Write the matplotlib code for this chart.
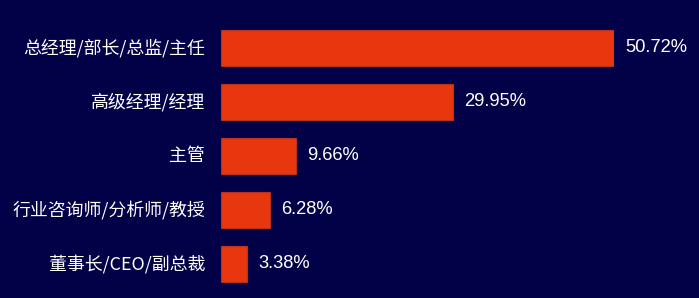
import matplotlib
matplotlib.use('Agg')
import matplotlib.pyplot as plt

plt.rcParams['font.family'] = ['Noto Sans CJK SC', 'DejaVu Sans']

# 数据
categories = ['总经理/部长/总监/主任', '高级经理/经理', '主管', '行业咨询师/分析师/教授', '董事长/CEO/副总裁']
values = [50.72, 29.95, 9.66, 6.28, 3.38]

bg = '#020046'
bar_color = '#E8360F'

fig = plt.figure(figsize=(6.99, 2.98), dpi=100, facecolor=bg)
ax = fig.add_axes([221 / 699, 7 / 298, 393 / 699, 270 / 298])
ax.set_facecolor(bg)

y = list(range(len(categories)))
ax.barh(y, values, height=0.65, color=bar_color, edgecolor='#B8301E', linewidth=0.8)
ax.set_ylim(len(categories) - 0.5, -0.5)
ax.set_xlim(0, max(values))

for yi, cat, v in zip(y, categories, values):
    ax.text(-16 / 393 * max(values), yi, cat, ha='right', va='center',
            color='white', fontsize=12.9, clip_on=False)
    ax.text(v + 11.5 / 393 * max(values), yi, '%.2f%%' % v, ha='left', va='center',
            color='white', fontsize=13.2, family=['Liberation Sans', 'DejaVu Sans'], clip_on=False)

ax.axis('off')
fig.savefig('out.png', dpi=100, facecolor=bg)
